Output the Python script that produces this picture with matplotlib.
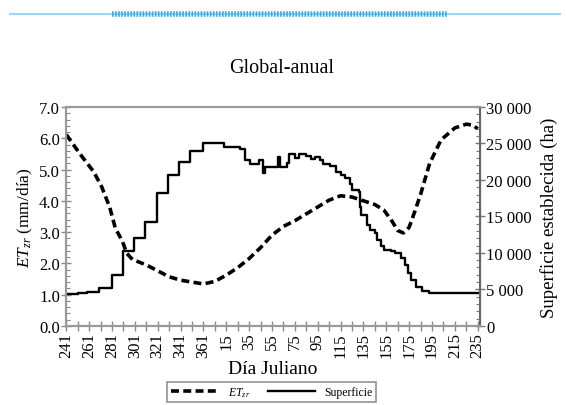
import numpy as np
import matplotlib.pyplot as plt
from matplotlib.ticker import MultipleLocator, FixedLocator, FuncFormatter
from matplotlib.lines import Line2D

plt.rcParams['font.family'] = ['Liberation Serif', 'DejaVu Serif']
plt.rcParams['mathtext.fontset'] = 'custom'
plt.rcParams['mathtext.rm'] = 'Liberation Serif'
plt.rcParams['mathtext.it'] = 'Liberation Serif:italic'

# data (x = position along the season, 0 = day 241)
tick_labels = ['241', '261', '281', '301', '321', '341', '361', '15', '35', '55',
               '75', '95', '115', '135', '155', '175', '195', '215', '235']

et_x = [0, 12, 24, 31, 38, 43, 49, 53, 58, 70, 80, 90, 100, 110, 120, 130, 140,
        150, 160, 170, 180, 190, 200, 210, 220, 230, 240, 250, 260, 270, 278,
        285, 290, 295, 300, 305, 310, 318, 328, 340, 350, 356, 360]
et_y = [6.12, 5.5, 4.93, 4.45, 3.8, 3.12, 2.72, 2.32, 2.12, 1.95, 1.76, 1.57,
        1.46, 1.4, 1.34, 1.42, 1.62, 1.86, 2.15, 2.5, 2.9, 3.18, 3.36, 3.58,
        3.8, 4.02, 4.16, 4.12, 4.0, 3.88, 3.7, 3.35, 3.05, 2.97, 3.15, 3.66,
        4.2, 5.2, 5.95, 6.33, 6.45, 6.42, 6.3]

sup_x = [0, 10, 18, 29, 40, 50, 59, 69, 79, 89, 99, 108, 120, 130, 138, 152,
         156, 161, 169, 172, 174, 185, 187, 193, 195, 200, 204, 210, 214, 218,
         222, 225, 231, 236, 240, 244, 248, 250, 256, 257, 258, 263, 266, 270,
         272, 275, 278, 284, 288, 293, 296, 299, 302, 306, 311, 317, 360]
sup_y = [4400, 4500, 4650, 5200, 6900, 10200, 12000, 14300, 18200, 20700,
         22500, 24000, 25100, 25000, 24500, 24300, 22700, 22200, 22700, 20900,
         21800, 23100, 21800, 22300, 23600, 23000, 23500, 23300, 22900, 23100,
         22700, 22200, 21900, 21100, 20700, 20200, 19500, 18600, 18400, 16300,
         15200, 13800, 13100, 12700, 11800, 10900, 10400, 10300, 9950, 9300,
         8400, 7300, 6300, 5300, 4800, 4500, 4500]

fig = plt.figure(figsize=(5.66, 4.06), dpi=100)
ax = fig.add_axes([0.117, 0.195, 0.731, 0.539])
ax2 = ax.twinx()

ax.plot(et_x, et_y, color='black', lw=2.6, dashes=(2.2, 1.2))
ax2.plot(sup_x, sup_y, color='black', lw=1.7, drawstyle='steps-post')

ax.set_xlim(0, 362)
ax.set_ylim(0, 7)
ax2.set_ylim(0, 30000)

ax.xaxis.set_major_locator(FixedLocator(range(0, 361, 20)))
ax.set_xticklabels(tick_labels, rotation=90)
ax.xaxis.set_minor_locator(FixedLocator(range(10, 361, 20)))
ax.yaxis.set_major_locator(MultipleLocator(1))
ax.yaxis.set_minor_locator(MultipleLocator(0.2))
ax.yaxis.set_major_formatter(FuncFormatter(lambda v, p: '%.1f' % v))
ax2.yaxis.set_major_locator(MultipleLocator(5000))
ax2.yaxis.set_minor_locator(MultipleLocator(1000))
ax2.yaxis.set_major_formatter(FuncFormatter(lambda v, p: '{:,.0f}'.format(v).replace(',', ' ')))

ax.tick_params(axis='x', which='both', direction='inout', length=7, width=1,
               color='#888888', labelsize=12, pad=1)
ax.tick_params(axis='y', which='major', direction='inout', length=7, width=1,
               color='#888888', labelsize=12, pad=1)
ax.tick_params(axis='y', which='minor', direction='in', length=3, width=0.8,
               color='#888888')
ax2.tick_params(axis='y', which='major', direction='inout', length=7, width=1,
                color='#777777', labelsize=12, pad=1)
ax2.tick_params(axis='y', which='minor', direction='in', length=3, width=0.8,
                color='#777777')

for s in ['top', 'left', 'bottom']:
    ax.spines[s].set_color('#999999')
    ax.spines[s].set_linewidth(1.5)
    ax2.spines[s].set_color('#999999')
    ax2.spines[s].set_linewidth(1.5)
ax2.spines['right'].set_color('#666666')
ax2.spines['right'].set_linewidth(1.5)

ax.set_ylabel('$ET_{zr}$ (mm/día)', fontsize=12.5, labelpad=3)
ax2.set_ylabel('Superficie establecida (ha)', fontsize=13.5, labelpad=6)
ax.set_xlabel('Día Juliano', fontsize=14, labelpad=2)
fig.text(0.497, 0.832, 'Global-anual', ha='center', va='center', fontsize=14.5)

handles = [Line2D([], [], color='black', lw=2.6, dashes=(2.2, 1.2)),
           Line2D([], [], color='black', lw=1.7)]
leg = fig.legend(handles, ['$ET_{zr}$', 'Superficie'], loc='center',
                 bbox_to_anchor=(0.48, 0.032), ncol=2, fontsize=8.5,
                 frameon=True, fancybox=False, handlelength=4,
                 columnspacing=1.5, borderpad=0.3)
leg.get_frame().set_edgecolor('#777777')
leg.get_frame().set_linewidth(1.2)

# decorative line at the top of the page
fig.add_artist(Line2D([0.018, 0.99], [0.963, 0.963], color='#9ad8f2', lw=1.5))
fig.add_artist(Line2D([0.198, 0.792], [0.963, 0.963], color='#2fb0e6', lw=4,
                      dashes=(0.3, 0.25)))

fig.savefig('out.png', dpi=100)
